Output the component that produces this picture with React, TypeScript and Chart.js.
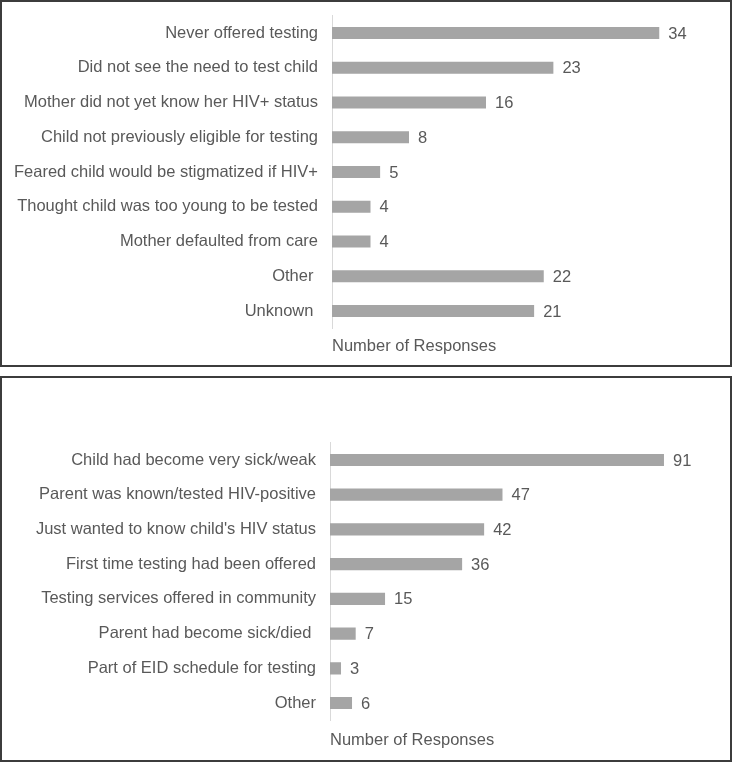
import React, { useEffect, useRef } from "react";
import { Chart, registerables } from "chart.js";

Chart.register(...registerables);

const topCategories = [
  "Never offered testing",
  "Did not see the need to test child",
  "Mother did not yet know her HIV+ status",
  "Child not previously eligible for testing",
  "Feared child would be stigmatized if HIV+",
  "Thought child was too young to be tested",
  "Mother defaulted from care",
  "Other ",
  "Unknown ",
];
const topValues = [34, 23, 16, 8, 5, 4, 4, 22, 21];

const bottomCategories = [
  "Child had become very sick/weak",
  "Parent was known/tested HIV-positive",
  "Just wanted to know child's HIV status",
  "First time testing had been offered",
  "Testing services offered in community",
  "Parent had become sick/died ",
  "Part of EID schedule for testing",
  "Other",
];
const bottomValues = [91, 47, 42, 36, 15, 7, 3, 6];

const axisTitle = "Number of Responses";

const FONT = "'Liberation Sans', Arial, sans-serif";
const FS = 16.5;
const TEXT = "#595959";
const BAR = "#a5a5a5";

const valueLabels = {
  id: "valueLabels",
  afterDatasetsDraw(chart: any) {
    const ctx = chart.ctx;
    ctx.save();
    ctx.font = `${FS}px ${FONT}`;
    ctx.fillStyle = TEXT;
    ctx.textAlign = "left";
    ctx.textBaseline = "middle";
    chart.data.datasets.forEach((ds: any, i: number) => {
      const meta = chart.getDatasetMeta(i);
      meta.data.forEach((bar: any, j: number) => {
        ctx.fillText(String(ds.data[j]), bar.x + 9, bar.y + 1);
      });
    });
    ctx.restore();
  },
};

type PanelProps = {
  labels: string[];
  values: number[];
  max: number;
  width: number;
  height: number;
  padTop: number;
  padRight: number;
  yWidth: number;
  xHeight: number;
  titlePad: number;
};

function PanelChart(p: PanelProps) {
  const ref = useRef<HTMLCanvasElement | null>(null);
  useEffect(() => {
    if (!ref.current) return;
    const chart = new Chart(ref.current, {
      type: "bar",
      data: {
        labels: p.labels,
        datasets: [
          {
            data: p.values,
            backgroundColor: BAR,
            borderWidth: 0,
            barPercentage: 0.35,
            categoryPercentage: 1,
          },
        ],
      },
      options: {
        indexAxis: "y",
        animation: false,
        responsive: false,
        devicePixelRatio: 1,
        layout: { padding: { top: p.padTop, right: p.padRight, left: 0, bottom: 0 } },
        plugins: { legend: { display: false }, tooltip: { enabled: false } },
        scales: {
          x: {
            min: 0,
            max: p.max,
            grid: { display: false },
            border: { display: false },
            ticks: { display: false },
            title: {
              display: true,
              text: axisTitle,
              align: "start",
              color: TEXT,
              font: { family: FONT, size: FS },
              padding: { top: 0, bottom: p.titlePad },
            },
            afterFit: (scale: any) => {
              scale.height = p.xHeight;
            },
          },
          y: {
            grid: { display: false, drawTicks: true, tickLength: 14 },
            border: { display: true, color: "#d9d9d9", width: 1 },
            ticks: {
              color: TEXT,
              padding: 0,
              font: { family: FONT, size: FS },
              autoSkip: false,
            },
            afterFit: (scale: any) => {
              scale.width = p.yWidth;
            },
          },
        },
      },
      plugins: [valueLabels],
    } as any);
    return () => chart.destroy();
  }, []);
  return <canvas ref={ref} width={p.width} height={p.height} style={{ display: "block" }} />;
}

export default function App() {
  useEffect(() => {
    document.body.style.margin = "0";
  }, []);
  const box: React.CSSProperties = {
    position: "absolute",
    left: 0,
    width: 732,
    boxSizing: "border-box",
    border: "2px solid #3c3c3c",
    background: "#fff",
  };
  return (
    <div style={{ position: "relative", width: 733, height: 763, background: "#fff" }}>
      <div style={{ ...box, top: 0, height: 367 }}>
        <PanelChart
          labels={topCategories}
          values={topValues}
          max={40}
          width={728}
          height={363}
          padTop={13.6}
          padRight={13}
          yWidth={330}
          xHeight={36.6}
          titlePad={9.1}
        />
      </div>
      <div style={{ ...box, top: 376, height: 386 }}>
        <PanelChart
          labels={bottomCategories}
          values={bottomValues}
          max={100}
          width={728}
          height={382}
          padTop={64.6}
          padRight={33}
          yWidth={328}
          xHeight={39.6}
          titlePad={9.6}
        />
      </div>
    </div>
  );
}
